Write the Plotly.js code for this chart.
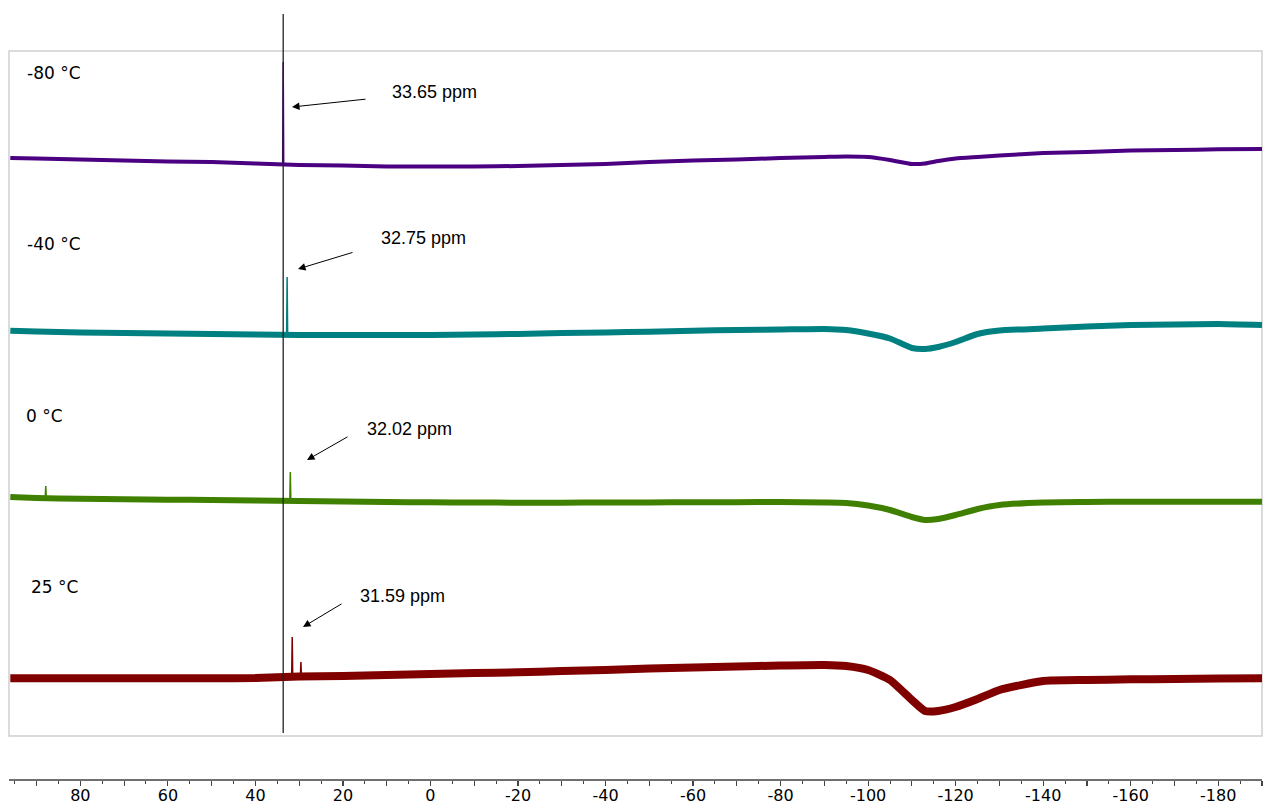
<!DOCTYPE html>
<html><head><meta charset="utf-8">
<script src="https://cdn.plot.ly/plotly-3.0.1.min.js"></script>
<style>html,body{margin:0;padding:0;background:#fff}#chart{width:1263px;height:807px}</style>
</head><body><div id="chart"></div>
<script>
// chemical shift grid (ppm)
const ppm = [96,90,80,70,60,50,40,30,20,10,0,-10,-20,-30,-40,-50,-60,-70,-80,-90,-95,-100,-105,-110,-113,-116,-120,-125,-130,-140,-150,-160,-170,-180,-190];
// stacked baselines (arbitrary intensity units, offsets included)
const base_m80 = [642,641.5,640.5,639.5,638.5,638,636.5,635,634.5,633.5,633.5,633.5,634,635,636,638,639.5,640.5,642,643,643.5,643,640,636,636.5,639,641.5,643,644.5,647,648,649.5,650,650.7,651];
const base_m40 = [469.3,468.5,467.5,467,466.5,466,465.5,465,465,465,465,465.5,466,467,467.5,468.3,469.3,470,470.5,471,470,466.5,461.5,452,451,453,458,466,469.5,471.5,473.5,475,475.5,476,475];
const base_0 = [303,302,301.3,300.7,300.3,300,299.5,299,298.5,298,297.7,297.5,297.3,297.3,297.5,297.6,297.7,297.8,298,297.5,297,294.5,290,283,280,281,285,291,295,297.5,298,298.3,298.3,298.3,298.3];
const base_25 = [121.7,121.7,121.7,121.7,121.7,121.7,122,123.5,124,125,126,127,127.7,129,130,131.5,132.5,133.5,134.5,135,134,130,120,100,89,89,93,101,110,119,120,120.7,121,121.5,121.7];
// peaks: [position ppm, baseline, top]
const temps = ["-80 °C","-40 °C","0 °C","25 °C"];
const peakPos = [33.65, 32.75, 32.02, 31.59];
const peakBase = [635.5, 465, 299, 123];
const peakTop = [738, 523, 328, 163];
const peakLabels = ["33.65 ppm","32.75 ppm","32.02 ppm","31.59 ppm"];
// minor spikes
const spikePos = [87.9, 29.6];
const spikeBase = [302, 123.5];
const spikeTop = [314, 138];
const spikeSeries = [2, 3];
const refLine = 33.65;
const tickVals = [90,80,70,60,50,40,30,20,10,0,-10,-20,-30,-40,-50,-60,-70,-80,-90,-100,-110,-120,-130,-140,-150,-160,-170,-180,-190];

const colors = ["#4b0082","#008080","#408000","#800000"];
const widths = [4,6,6,8];
const bases = [base_m80, base_m40, base_0, base_25];

const traces = [];
bases.forEach((b,i)=>{
  traces.push({x:ppm, y:b, type:'scatter', mode:'lines', line:{color:colors[i], width:widths[i], shape:'spline', smoothing:0.5}, hoverinfo:'skip', showlegend:false});
});
peakPos.forEach((p,i)=>{
  traces.push({x:[p+0.12,p,p-0.12], y:[peakBase[i],peakTop[i],peakBase[i]], type:'scatter', mode:'lines', line:{color:colors[i], width:1.5}, showlegend:false, hoverinfo:'skip'});
});
spikePos.forEach((p,i)=>{
  traces.push({x:[p+0.12,p,p-0.12], y:[spikeBase[i],spikeTop[i],spikeBase[i]], type:'scatter', mode:'lines', line:{color:colors[spikeSeries[i]], width:1.5}, showlegend:false, hoverinfo:'skip'});
});

// layout helpers (pixel -> paper)
const L=9, R=1262, T=14, B=779;
const px=(x)=>(x-L)/(R-L), py=(y)=>(B-y)/(B-T);

const tempPos = [[25,73],[25,244],[24,416],[29,587]];
const labPos = [[390,92],[379,238],[365,429],[358,596]];
const arrowHead = [[292,107],[298,269],[307,460],[303,627]];
const arrowTail = [[367,99],[354,252],[349,436],[343,603]];

const annotations = [];
temps.forEach((t,i)=>annotations.push({xref:'paper',yref:'paper',x:px(tempPos[i][0]),y:py(tempPos[i][1]),xanchor:'left',yanchor:'middle',text:t,showarrow:false,font:{family:'DejaVu Sans, Verdana, sans-serif',size:17,color:'#000'}}));
peakLabels.forEach((t,i)=>annotations.push({xref:'paper',yref:'paper',x:px(labPos[i][0]),y:py(labPos[i][1]),xanchor:'left',yanchor:'middle',text:t,showarrow:false,font:{family:'Liberation Sans, Arial, sans-serif',size:18,color:'#000'}}));
arrowHead.forEach((h,i)=>annotations.push({xref:'paper',yref:'paper',x:px(h[0]),y:py(h[1]),text:'',showarrow:true,arrowhead:2,arrowsize:1.5,arrowwidth:1,arrowcolor:'#000',ax:arrowTail[i][0]-h[0],ay:arrowTail[i][1]-h[1]}));

const layout = {
  width:1263, height:807,
  margin:{l:L, r:1263-R, t:T, b:807-B},
  paper_bgcolor:'#fff', plot_bgcolor:'#fff',
  showlegend:false,
  xaxis:{range:[96.3,-190], showgrid:false, zeroline:false, showline:true, linecolor:'#707070', linewidth:1.5,
    ticks:'outside', ticklen:5, tickwidth:1.2, tickcolor:'#444',
    tickmode:'array', tickvals:tickVals, ticktext:tickVals.map(v=>v%20===0?String(v):''),
    ticklabelstandoff:-4,
    minor:{dtick:5, ticks:'outside', ticklen:3, tickcolor:'#444', tickwidth:1, showgrid:false},
    tickfont:{family:'DejaVu Sans, Verdana, sans-serif', size:16, color:'#000'}, fixedrange:true},
  yaxis:{range:[21,786], visible:false, fixedrange:true},
  shapes:[
    {type:'rect', xref:'paper', yref:'paper', x0:0, x1:1, y0:py(736), y1:py(51), line:{color:'#d0d0d0', width:1.5}, layer:'below'},
    {type:'line', xref:'x', yref:'paper', x0:refLine, x1:refLine, y0:py(733), y1:1, line:{color:'#222', width:1.3}}
  ],
  annotations:annotations
};
Plotly.newPlot('chart', traces, layout, {displayModeBar:false, staticPlot:true});
</script></body></html>
